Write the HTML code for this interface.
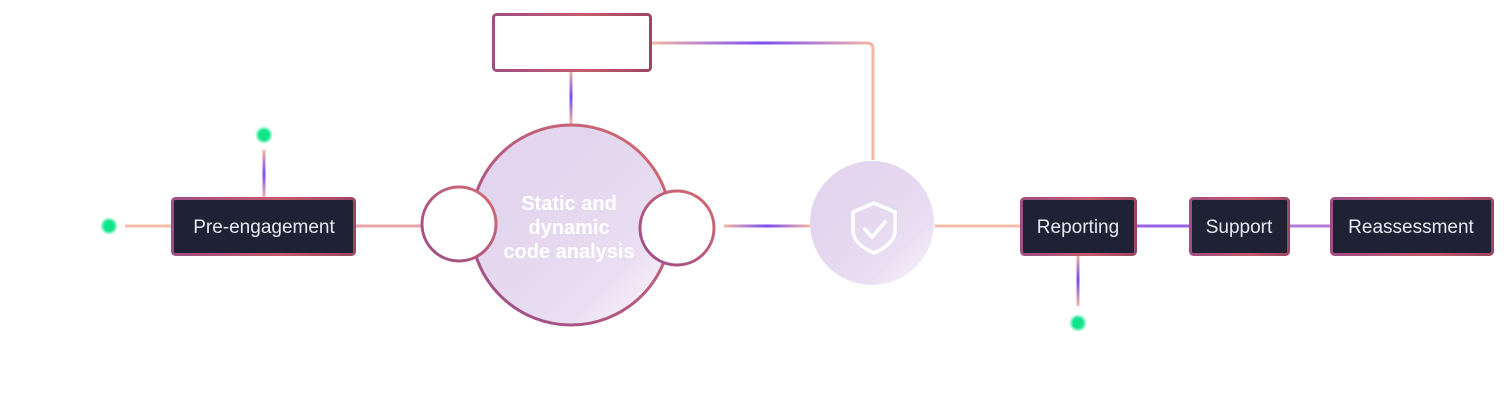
<!DOCTYPE html>
<html><head><meta charset="utf-8"><style>
html,body{margin:0;padding:0;background:#fff;width:1508px;height:403px;overflow:hidden}
</style></head><body>
<svg width="1508" height="403" viewBox="0 0 1508 403" xmlns="http://www.w3.org/2000/svg" font-family="Liberation Sans, sans-serif">
<defs>
<linearGradient id="bd" x1="0" y1="0" x2="1" y2="0"><stop offset="0" stop-color="#a04f86"/><stop offset="0.6" stop-color="#c75a6c"/><stop offset="1" stop-color="#9d4662"/></linearGradient>
<linearGradient id="cb" x1="0" y1="1" x2="1" y2="0"><stop offset="0" stop-color="#994c8a"/><stop offset="1" stop-color="#d76a6e"/></linearGradient>
<linearGradient id="fill" x1="0.3" y1="0.3" x2="1" y2="1"><stop offset="0" stop-color="#e3d5ed"/><stop offset="0.6" stop-color="#e9def2"/><stop offset="1" stop-color="#fbf8fd"/></linearGradient>
<linearGradient id="lh" x1="0" y1="0" x2="1" y2="0"><stop offset="0" stop-color="#f4b8a6"/><stop offset="0.5" stop-color="#7b4cf2"/><stop offset="1" stop-color="#f4b8a6"/></linearGradient>
<linearGradient id="lv" x1="0" y1="0" x2="0" y2="1"><stop offset="0" stop-color="#f4b8a6"/><stop offset="0.5" stop-color="#7b4cf2"/><stop offset="1" stop-color="#f4b8a6"/></linearGradient>
<radialGradient id="dot"><stop offset="0.55" stop-color="#10e58c"/><stop offset="1" stop-color="#10e58c" stop-opacity="0"/></radialGradient>
</defs>
<g stroke-width="3" fill="none">
<line x1="125" y1="226" x2="172" y2="226" stroke="#f4bcaa"/>
<line x1="355" y1="226" x2="421" y2="226" stroke="#e9a3ab"/>
<line x1="935" y1="226" x2="1021" y2="226" stroke="#f4bcaa"/>
<line x1="1136" y1="226" x2="1190" y2="226" stroke="#9a62e6"/>
<line x1="1288" y1="226" x2="1331" y2="226" stroke="#b07ad8"/>
<path d="M650 43 H867 Q873 43 873 49 V160" stroke="url(#lh)"/>
</g>
<rect x="262.5" y="150" width="3" height="48" fill="url(#lv)"/>
<rect x="1076.5" y="254" width="3" height="52" fill="url(#lv)"/>
<rect x="569.5" y="70" width="3" height="54" fill="url(#lv)"/>
<rect x="724" y="224.5" width="86" height="3" fill="url(#lh)"/>
<circle cx="109" cy="226" r="9" fill="url(#dot)"/>
<circle cx="264" cy="135" r="9" fill="url(#dot)"/>
<circle cx="1078" cy="323" r="9" fill="url(#dot)"/>
<rect x="493.5" y="14.5" width="157" height="56" rx="3" fill="#fff" stroke="url(#bd)" stroke-width="3"/>
<circle cx="571" cy="225" r="100" fill="url(#fill)" stroke="url(#cb)" stroke-width="3"/>
<text fill="#fff" font-weight="bold" font-size="20" text-anchor="middle"><tspan x="569" y="210">Static and</tspan><tspan x="569" y="234">dynamic</tspan><tspan x="569" y="258">code analysis</tspan></text>
<circle cx="459" cy="224" r="37" fill="#fff" stroke="url(#cb)" stroke-width="3"/>
<circle cx="677" cy="228" r="37" fill="#fff" stroke="url(#cb)" stroke-width="3"/>
<circle cx="872" cy="223" r="62" fill="url(#fill)"/>
<path d="M874 203 L895 212 V230 Q895 244 874 253 Q853 244 853 230 V212 Z" fill="none" stroke="#fff" stroke-width="3.5" stroke-linejoin="round"/>
<path d="M864 228 L872 237 L886 221" fill="none" stroke="#fff" stroke-width="3.5"/>
<g stroke="url(#bd)" stroke-width="3" fill="#1f2235">
<rect x="172.5" y="198.5" width="182" height="56" rx="3"/>
<rect x="1021.5" y="198.5" width="114" height="56" rx="3"/>
<rect x="1190.5" y="198.5" width="98" height="56" rx="3"/>
<rect x="1331.5" y="198.5" width="161" height="56" rx="3"/>
</g>
<g fill="#e8e8f0" font-size="19" text-anchor="middle">
<text x="264" y="233">Pre-engagement</text>
<text x="1078" y="233">Reporting</text>
<text x="1239" y="233">Support</text>
<text x="1411" y="233">Reassessment</text>
</g>
</svg>
</body></html>
